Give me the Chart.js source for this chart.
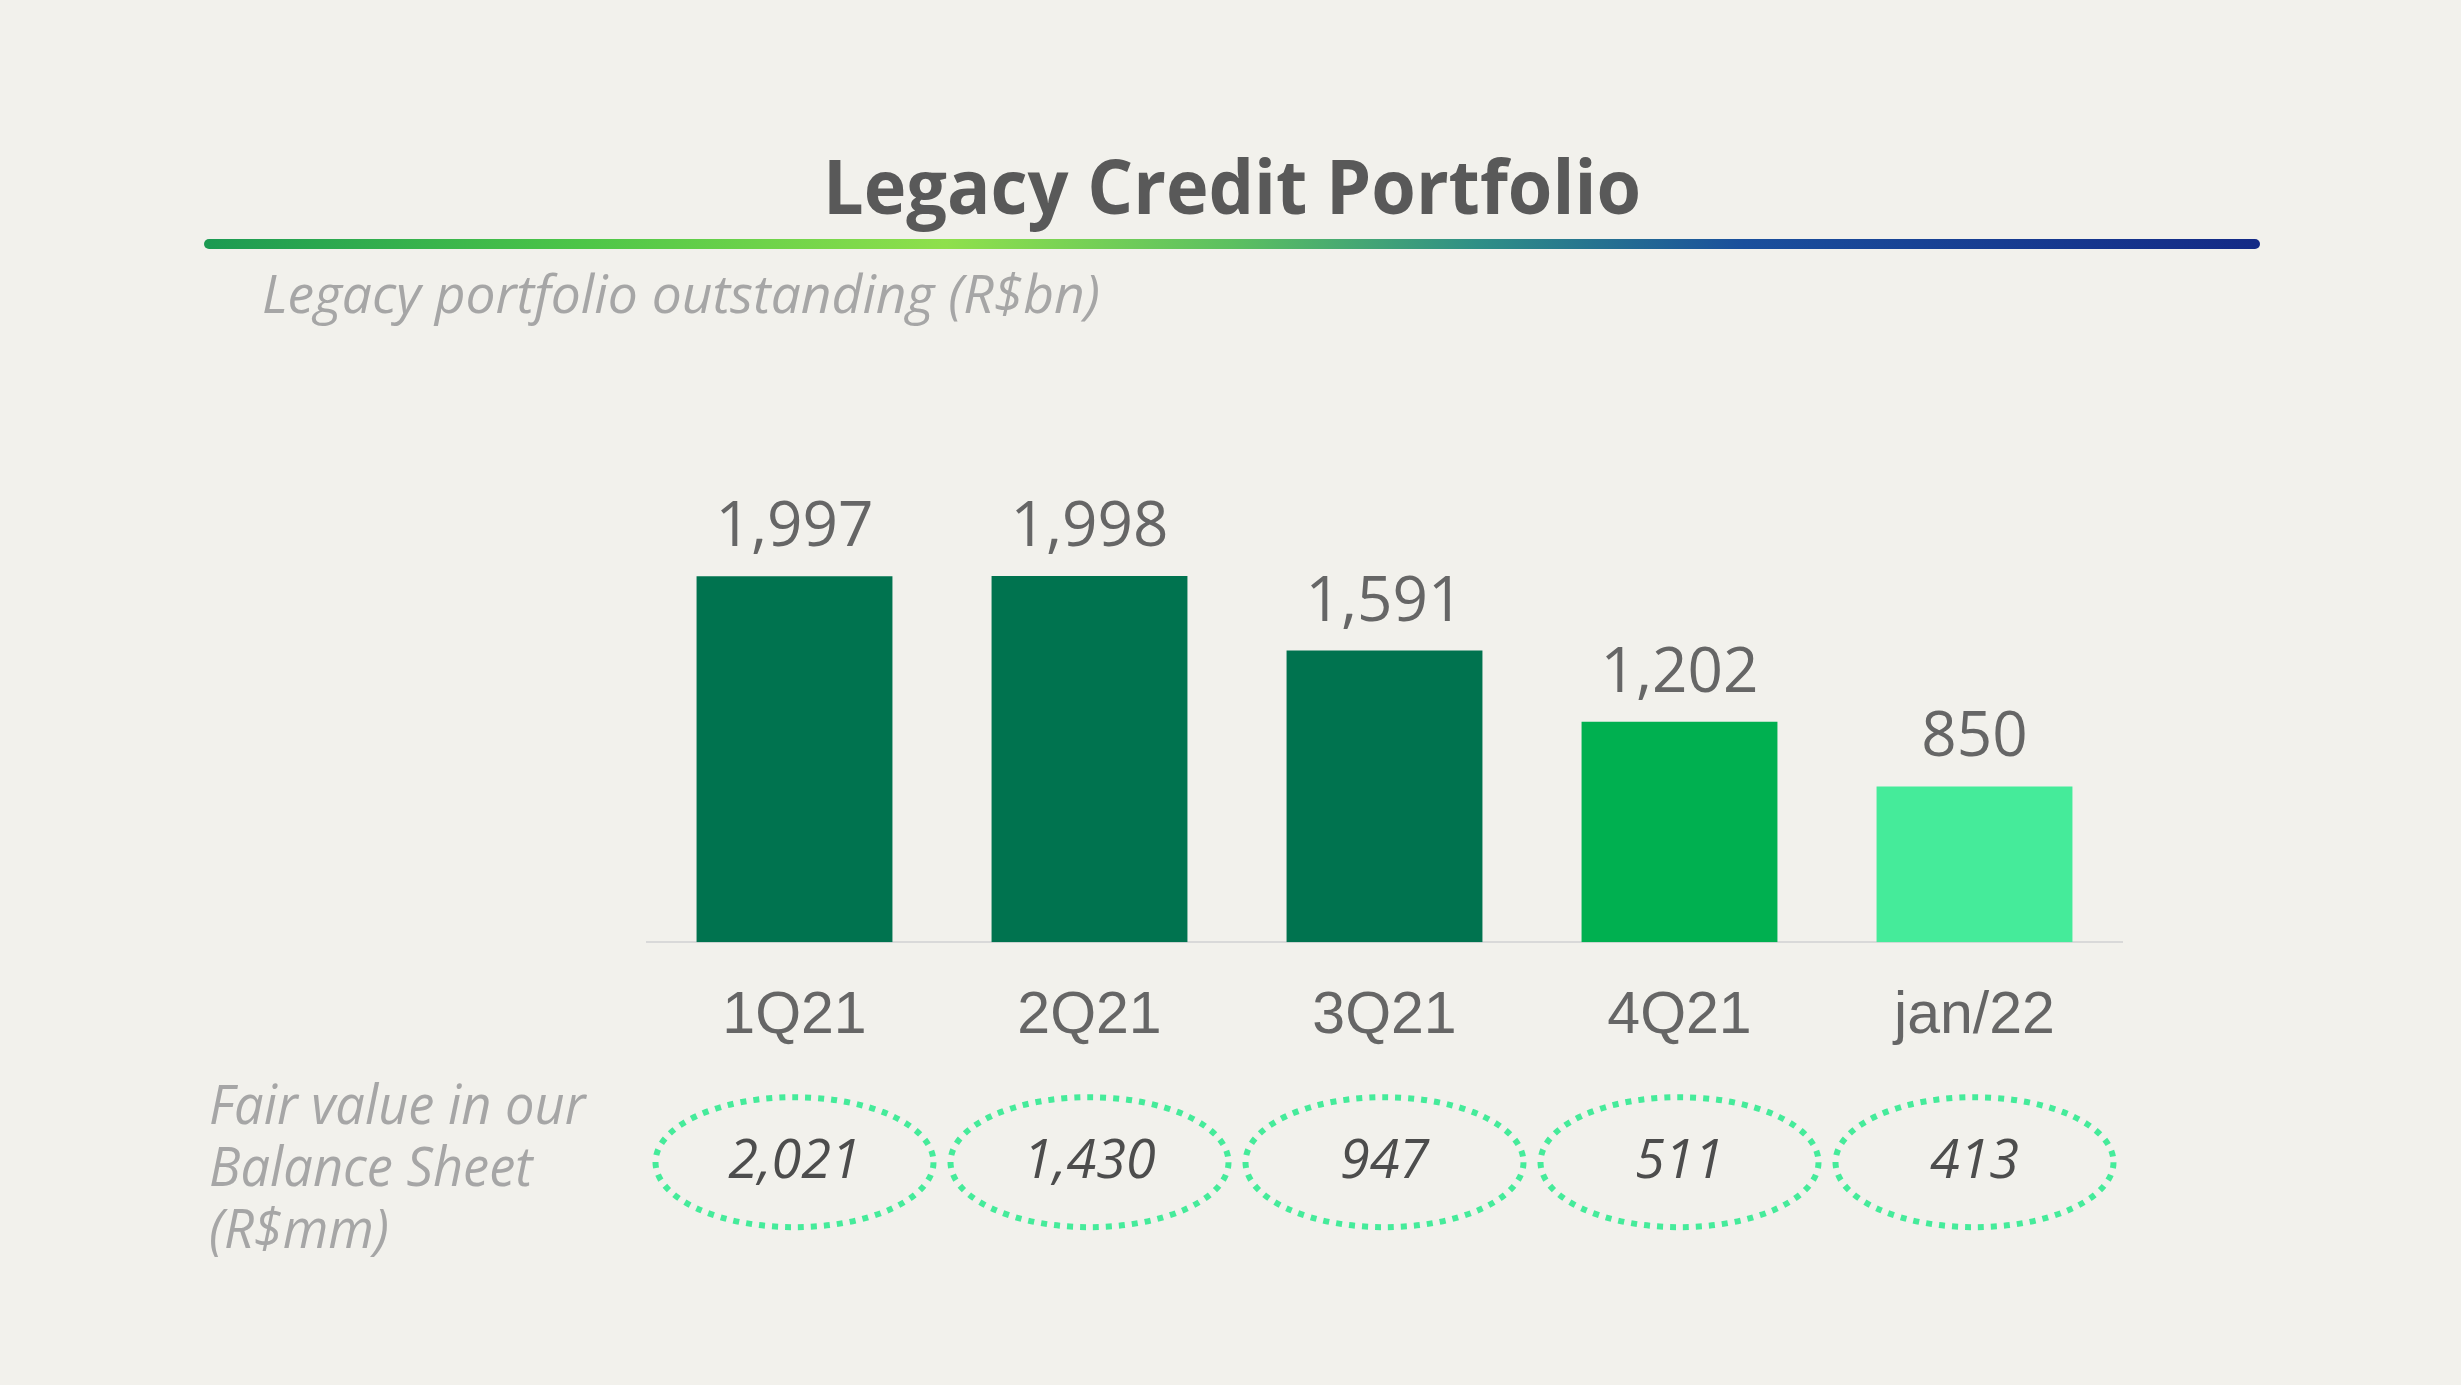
<!DOCTYPE html>
<html>
<head>
<meta charset="utf-8">
<title>Legacy Credit Portfolio</title>
<script src="https://cdn.jsdelivr.net/npm/chart.js@4.4.0/dist/chart.umd.min.js"></script>
<style>
  html, body { margin: 0; padding: 0; background: #f2f1ec; }
  #wrap { width: 2461px; height: 1385px; }
</style>
</head>
<body>
<div id="wrap"><canvas id="myChart" width="2461" height="1385"></canvas></div>
<script>
var periods = ["1Q21", "2Q21", "3Q21", "4Q21", "jan/22"];
var portfolioValues = [1997, 1998, 1591, 1202, 850];
var fairValues = [2021, 1430, 947, 511, 413];
var barColors = ["#00734f", "#00734f", "#00734f", "#00b050", "#45eb9a"];
var titleText = "Legacy Credit Portfolio";
var subtitleText = "Legacy portfolio outstanding (R$bn)";
var fairValueLabel = ["Fair value in our", "Balance Sheet", "(R$mm)"];

var ctx = document.getElementById("myChart").getContext("2d");

function fmt(v) {
  return v.toLocaleString("en-US");
}

// draw text stretched/squeezed horizontally to a given width (slide font differs)
function fitText(c, text, x, y, width) {
  var w = c.measureText(text).width;
  c.save();
  c.textAlign = "left";
  c.translate(x, y);
  c.scale(width / w, 1);
  c.fillText(text, 0, 0);
  c.restore();
}

var slidePlugin = {
  id: "slide",
  afterDatasetsDraw: function(chart) {
    var c = chart.ctx;
    var meta = chart.getDatasetMeta(0);
    c.save();
    c.fillStyle = "#666666";
    c.font = "62px 'Open Sans'";
    c.textAlign = "center";
    c.textBaseline = "alphabetic";
    meta.data.forEach(function(bar, i) {
      c.fillText(fmt(portfolioValues[i]), bar.x, bar.y - 30);
    });
    c.restore();
  },
  afterDraw: function(chart) {
    var c = chart.ctx;
    var area = chart.chartArea;
    var xScale = chart.scales.x;
    c.save();

    // title
    c.fillStyle = "#595959";
    c.font = "bold 76px 'Open Sans'";
    c.textBaseline = "alphabetic";
    fitText(c, titleText, 823, 214, 818);

    // gradient rule under the title
    var g = c.createLinearGradient(209, 0, 2255, 0);
    g.addColorStop(0, "#1c9a52");
    g.addColorStop(0.18, "#4cc548");
    g.addColorStop(0.36, "#8fe04c");
    g.addColorStop(0.5, "#5cc060");
    g.addColorStop(0.62, "#2f8f86");
    g.addColorStop(0.75, "#1a4f9c");
    g.addColorStop(1, "#142a86");
    c.strokeStyle = g;
    c.lineWidth = 10;
    c.lineCap = "round";
    c.beginPath();
    c.moveTo(209, 244);
    c.lineTo(2255, 244);
    c.stroke();

    // subtitle
    c.fillStyle = "#a6a6a6";
    c.font = "italic 53px 'Open Sans'";
    fitText(c, subtitleText, 262, 313, 838);

    // fair value row label
    c.font = "italic 54px 'Open Sans'";
    fairValueLabel.forEach(function(line, i) {
      fitText(c, line, 209, 1124 + i * 62, c.measureText(line).width * 0.97);
    });

    // dotted ellipses with fair values
    var cy = area.bottom + 220;
    for (var i = 0; i < fairValues.length; i++) {
      var cx = xScale.getPixelForValue(i);
      c.strokeStyle = "#45eb9a";
      c.lineWidth = 6;
      c.lineCap = "butt";
      c.setLineDash([6, 7]);
      c.beginPath();
      c.ellipse(cx, cy, 139, 65, 0, 0, Math.PI * 2);
      c.stroke();
      c.setLineDash([]);
      c.fillStyle = "#4d4d4d";
      c.font = "italic 54px 'Open Sans'";
      c.textAlign = "center";
      c.textBaseline = "middle";
      c.fillText(fmt(fairValues[i]), cx, cy);
    }
    c.restore();
  }
};

var chart = new Chart(ctx, {
  type: "bar",
  data: {
    labels: periods,
    datasets: [
      {
        label: "Legacy portfolio outstanding (R$bn)",
        data: portfolioValues,
        backgroundColor: barColors,
        borderWidth: 0,
        categoryPercentage: 1,
        barPercentage: 0.664
      }
    ]
  },
  options: {
    responsive: false,
    animation: false,
    layout: {
      padding: { left: 647, right: 339, top: 470, bottom: 294 }
    },
    plugins: {
      legend: { display: false },
      tooltip: { enabled: false }
    },
    scales: {
      x: {
        grid: { display: false, drawTicks: false },
        border: { display: true, color: "#d9d9d9", width: 2 },
        ticks: {
          color: "#666666",
          padding: 39,
          font: { family: "'Liberation Sans', Arial", size: 59 }
        }
      },
      y: {
        display: false,
        min: 0,
        max: 2576
      }
    }
  },
  plugins: [slidePlugin]
});
</script>
</body>
</html>
